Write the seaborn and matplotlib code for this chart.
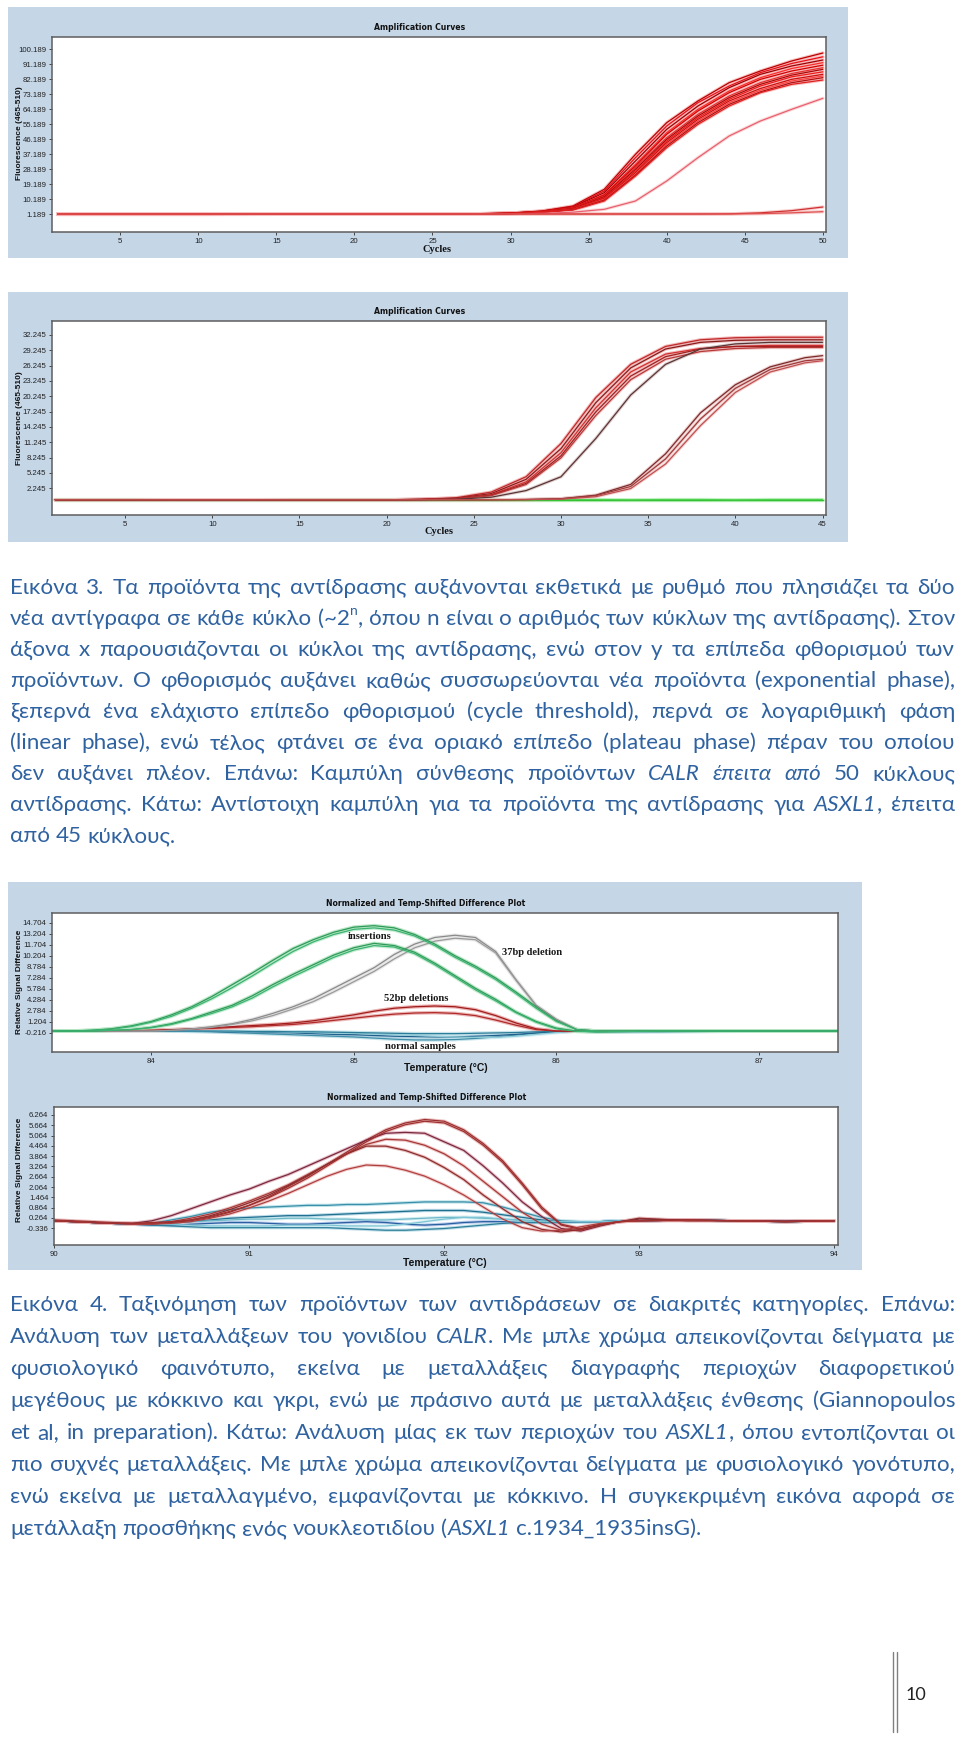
import numpy as np
import pandas as pd
import seaborn as sns
import matplotlib
matplotlib.use("Agg")
import matplotlib.pyplot as plt
from matplotlib.patches import Rectangle
from matplotlib import font_manager
from matplotlib.font_manager import FontProperties
from matplotlib.ft2font import FT2Font

# ---------------- data ----------------
# CALR amplification (50 cycles)
calr_cycles = [1, 5, 10, 15, 20, 25, 28, 30, 32, 34, 36, 38, 40, 42, 44, 46, 48, 50]
calr_amp_01 = [1.2, 1.2, 1.2, 1.2, 1.2, 1.3, 1.4, 1.8, 3.0, 6.0, 16.0, 37.0, 56.0, 69.0, 80.0, 87.0, 93.0, 97.8]
calr_amp_02 = [1.2, 1.2, 1.2, 1.2, 1.2, 1.3, 1.4, 1.7, 2.9, 5.6, 15.0, 35.0, 54.0, 68.0, 78.0, 86.0, 91.5, 95.5]
calr_amp_03 = [1.1, 1.1, 1.2, 1.2, 1.2, 1.2, 1.3, 1.7, 2.8, 5.3, 14.0, 33.0, 52.0, 66.0, 77.0, 85.0, 90.0, 93.6]
calr_amp_04 = [1.2, 1.2, 1.1, 1.1, 1.1, 1.2, 1.3, 1.6, 2.7, 5.0, 13.0, 31.0, 50.0, 64.0, 75.0, 83.0, 88.5, 92.0]
calr_amp_05 = [1.0, 1.0, 1.0, 1.1, 1.1, 1.2, 1.3, 1.6, 2.6, 4.8, 12.5, 30.0, 49.0, 63.0, 74.0, 82.0, 87.0, 90.5]
calr_amp_06 = [1.2, 1.2, 1.2, 1.2, 1.2, 1.2, 1.3, 1.6, 2.5, 4.6, 12.0, 29.0, 47.0, 61.0, 72.0, 80.0, 85.5, 89.0]
calr_amp_07 = [1.3, 1.3, 1.3, 1.3, 1.2, 1.2, 1.3, 1.5, 2.5, 4.4, 11.5, 28.0, 46.0, 60.0, 71.0, 79.0, 84.5, 88.0]
calr_amp_08 = [1.1, 1.1, 1.1, 1.1, 1.1, 1.1, 1.2, 1.5, 2.4, 4.2, 11.0, 27.0, 45.0, 59.0, 70.0, 78.0, 83.5, 86.5]
calr_amp_09 = [1.2, 1.2, 1.2, 1.2, 1.2, 1.2, 1.2, 1.5, 2.3, 4.0, 10.5, 26.0, 44.0, 58.0, 69.0, 76.5, 82.0, 85.0]
calr_amp_10 = [0.9, 0.9, 0.9, 1.0, 1.0, 1.1, 1.2, 1.4, 2.3, 3.9, 10.0, 25.0, 43.0, 57.0, 68.0, 75.5, 81.0, 84.0]
calr_amp_11 = [1.2, 1.2, 1.2, 1.2, 1.2, 1.2, 1.2, 1.4, 2.2, 3.8, 9.5, 24.5, 42.0, 56.0, 67.0, 74.5, 80.0, 83.0]
calr_amp_12 = [1.2, 1.2, 1.2, 1.2, 1.2, 1.2, 1.2, 1.4, 2.2, 3.6, 9.0, 24.0, 41.0, 55.0, 66.0, 74.0, 79.0, 81.6]
calr_amp_13 = [1.2, 1.2, 1.2, 1.2, 1.2, 1.2, 1.2, 1.3, 1.6, 2.3, 4.0, 9.0, 21.0, 35.0, 48.0, 57.0, 64.0, 70.6]
calr_amp_14 = [1.2, 1.2, 1.2, 1.2, 1.2, 1.2, 1.2, 1.2, 1.2, 1.2, 1.2, 1.2, 1.2, 1.2, 1.3, 1.9, 3.2, 5.4]
calr_amp_15 = [1.2, 1.2, 1.2, 1.2, 1.2, 1.2, 1.2, 1.2, 1.2, 1.2, 1.2, 1.2, 1.2, 1.2, 1.2, 1.4, 1.9, 2.6]
calr_amp_yticks = ["1.189", "10.189", "19.189", "28.189", "37.189", "46.189",
                   "55.189", "64.189", "73.189", "82.189", "91.189", "100.189"]

# ASXL1 amplification (45 cycles)
asxl1_cycles = [1, 5, 10, 15, 20, 22, 24, 26, 28, 30, 32, 34, 36, 38, 40, 42, 44, 45]
asxl1_amp_a1 = [0.0, 0.0, 0.0, 0.0, 0.0, 0.1, 0.4, 1.5, 4.5, 11.0, 20.0, 26.5, 30.0, 31.3, 31.7, 31.8, 31.8, 31.8]
asxl1_amp_a2 = [0.0, 0.0, 0.0, 0.0, 0.0, 0.1, 0.3, 1.2, 4.0, 10.0, 19.0, 25.8, 29.5, 30.8, 31.2, 31.3, 31.3, 31.3]
asxl1_amp_a3 = [0.0, 0.0, 0.0, 0.0, 0.0, 0.05, 0.2, 1.0, 3.5, 9.2, 18.0, 25.0, 28.5, 29.6, 30.0, 30.2, 30.2, 30.2]
asxl1_amp_a4 = [0.0, 0.0, 0.0, 0.0, 0.0, 0.05, 0.2, 0.9, 3.2, 8.6, 17.2, 24.2, 28.0, 29.5, 30.0, 30.0, 30.0, 30.0]
asxl1_amp_a5 = [0.0, 0.0, 0.0, 0.0, 0.0, 0.05, 0.2, 0.8, 3.0, 8.2, 16.5, 23.5, 27.5, 29.0, 29.6, 29.8, 29.8, 29.8]
asxl1_amp_b1 = [0.0, 0.0, 0.0, 0.0, 0.0, 0.0, 0.1, 0.5, 1.8, 4.5, 12.0, 20.5, 26.5, 29.5, 30.5, 30.8, 30.8, 30.8]
asxl1_amp_c1 = [0.0, 0.0, 0.0, 0.0, 0.0, 0.0, 0.0, 0.0, 0.05, 0.2, 0.9, 3.0, 9.0, 17.0, 22.5, 26.0, 27.8, 28.2]
asxl1_amp_c2 = [0.0, 0.0, 0.0, 0.0, 0.0, 0.0, 0.0, 0.0, 0.05, 0.2, 0.8, 2.6, 8.0, 15.8, 21.8, 25.5, 27.2, 27.5]
asxl1_amp_c3 = [0.0, 0.0, 0.0, 0.0, 0.0, 0.0, 0.0, 0.0, 0.0, 0.1, 0.6, 2.2, 7.0, 14.5, 21.0, 25.0, 26.8, 27.2]
asxl1_amp_g1 = [0.0, 0.0, 0.0, 0.0, 0.0, 0.0, 0.0, 0.0, 0.0, 0.0, 0.0, 0.0, 0.0, 0.0, 0.0, 0.0, 0.0, 0.0]
asxl1_amp_g2 = [0.05, 0.05, 0.0, 0.05, 0.05, 0.0, 0.05, 0.05, 0.0, 0.05, 0.05, 0.0, 0.05, 0.05, 0.0, 0.05, 0.05, 0.05]
asxl1_amp_yticks = ["2.245", "5.245", "8.245", "11.245", "14.245", "17.245",
                    "20.245", "23.245", "26.245", "29.245", "32.245"]

# CALR difference plot
calr_temp = [83.5, 83.6, 83.7, 83.8, 83.9, 84.0, 84.1, 84.2, 84.3, 84.4, 84.5, 84.6, 84.7, 84.8, 84.9,
             85.0, 85.1, 85.2, 85.3, 85.4, 85.5, 85.6, 85.7, 85.8, 85.9, 86.0, 86.1, 86.2, 86.5, 87.0, 87.4]
calr_ins_1 = [0.0, 0.0, 0.1, 0.3, 0.7, 1.3, 2.2, 3.3, 4.7, 6.3, 7.9, 9.6, 11.2, 12.4, 13.4, 14.1, 14.3,
              14.0, 13.1, 11.8, 10.2, 8.8, 7.2, 5.3, 3.3, 1.4, 0.2, 0.0, 0.0, 0.0, 0.0]
calr_ins_2 = [0.0, 0.0, 0.1, 0.25, 0.6, 1.2, 2.0, 3.1, 4.4, 5.9, 7.5, 9.2, 10.8, 12.1, 13.1, 13.8, 14.0,
              13.7, 12.9, 11.6, 10.0, 8.6, 7.0, 5.1, 3.1, 1.3, 0.2, 0.0, 0.0, 0.0, 0.0]
calr_ins_3 = [0.0, 0.0, 0.0, 0.1, 0.2, 0.5, 1.0, 1.7, 2.6, 3.5, 4.8, 6.3, 7.7, 9.0, 10.3, 11.3, 11.9,
              11.6, 10.7, 9.2, 7.5, 5.8, 4.3, 2.6, 1.3, 0.4, 0.0, -0.1, 0.0, 0.0, 0.0]
calr_ins_4 = [0.0, 0.0, 0.0, 0.1, 0.2, 0.45, 0.9, 1.6, 2.4, 3.3, 4.5, 6.0, 7.4, 8.7, 10.0, 11.0, 11.6,
              11.4, 10.5, 9.0, 7.3, 5.6, 4.1, 2.5, 1.2, 0.3, -0.05, -0.1, 0.0, 0.0, 0.0]
calr_del37_1 = [0.0, 0.0, 0.0, 0.0, 0.0, 0.0, 0.1, 0.3, 0.6, 1.0, 1.6, 2.4, 3.3, 4.4, 5.8, 7.2, 8.6,
                10.4, 11.8, 12.7, 13.0, 12.7, 10.8, 7.0, 3.5, 1.6, 0.2, 0.0, 0.0, 0.0, 0.0]
calr_del37_2 = [0.0, 0.0, 0.0, 0.0, 0.0, 0.0, 0.1, 0.25, 0.5, 0.9, 1.4, 2.1, 3.0, 4.0, 5.3, 6.7, 8.1,
                9.8, 11.3, 12.2, 12.6, 12.4, 10.6, 6.9, 3.4, 1.5, 0.2, 0.0, 0.0, 0.0, 0.0]
calr_del52_1 = [0.0, 0.0, 0.0, 0.0, 0.05, 0.1, 0.2, 0.3, 0.45, 0.6, 0.75, 0.9, 1.1, 1.4, 1.8, 2.2, 2.7,
                3.1, 3.3, 3.4, 3.3, 2.9, 2.1, 1.1, 0.3, 0.0, 0.0, 0.0, 0.0, 0.0, 0.0]
calr_del52_2 = [0.0, 0.0, 0.0, 0.0, 0.05, 0.1, 0.15, 0.25, 0.35, 0.5, 0.6, 0.75, 0.9, 1.15, 1.45, 1.75, 2.05,
                2.3, 2.45, 2.5, 2.4, 2.1, 1.5, 0.8, 0.2, 0.0, 0.0, 0.0, 0.0, 0.0, 0.0]
calr_norm_1 = [0.0, 0.0, 0.0, 0.0, 0.0, 0.0, 0.0, -0.05, -0.1, -0.2, -0.3, -0.4, -0.5, -0.6, -0.7, -0.8, -0.95,
               -1.1, -1.2, -1.2, -1.15, -1.0, -0.8, -0.55, -0.3, -0.1, 0.0, -0.1, -0.1, 0.0, 0.0]
calr_norm_2 = [0.0, 0.0, 0.0, 0.0, 0.0, 0.0, 0.0, 0.0, -0.05, -0.1, -0.15, -0.2, -0.25, -0.35, -0.45, -0.5, -0.6,
               -0.7, -0.75, -0.8, -0.8, -0.7, -0.6, -0.45, -0.25, -0.1, 0.0, 0.0, 0.0, 0.0, 0.0]
calr_norm_3 = [0.0, 0.0, 0.0, 0.0, 0.0, 0.0, 0.0, 0.0, 0.0, -0.05, -0.1, -0.1, -0.15, -0.2, -0.25, -0.3, -0.4,
               -0.5, -0.6, -0.7, -0.8, -0.85, -0.85, -0.7, -0.45, -0.2, 0.0, -0.05, 0.0, 0.0, 0.0]
calr_norm_4 = [0.0, 0.0, 0.0, 0.0, 0.0, 0.0, 0.0, 0.0, 0.0, 0.0, -0.05, -0.05, -0.1, -0.1, -0.15, -0.2, -0.25,
               -0.3, -0.35, -0.35, -0.35, -0.3, -0.25, -0.2, -0.1, -0.05, 0.0, 0.0, 0.0, 0.0, 0.0]
calr_diff_yticks = ["-0.216", "1.204", "2.784", "4.284", "5.784", "7.284",
                    "8.784", "10.204", "11.704", "13.204", "14.704"]

# ASXL1 difference plot
asxl1_temp = [90.0, 90.1, 90.2, 90.3, 90.4, 90.5, 90.6, 90.7, 90.8, 90.9, 91.0, 91.1, 91.2, 91.3, 91.4, 91.5,
              91.6, 91.7, 91.8, 91.9, 92.0, 92.1, 92.2, 92.3, 92.4, 92.5, 92.6, 92.7, 92.8, 92.9, 93.0,
              93.25, 93.5, 93.75, 94.0]
asxl1_mut_1 = [0.15, 0.1, 0.05, 0.0, -0.05, -0.05, 0.0, 0.1, 0.3, 0.6, 1.0, 1.5, 2.1, 2.7, 3.4, 4.1, 4.8, 5.4,
               5.8, 6.0, 5.9, 5.4, 4.6, 3.6, 2.3, 0.9, -0.1, -0.35, -0.1, 0.05, 0.1, 0.15, 0.1, 0.05, 0.1]
asxl1_mut_2 = [0.1, 0.05, 0.0, -0.05, -0.05, 0.1, 0.4, 0.8, 1.2, 1.6, 1.95, 2.4, 2.8, 3.3, 3.8, 4.3, 4.8, 5.2,
               5.25, 5.2, 4.7, 4.2, 3.3, 2.3, 1.2, 0.35, -0.35, -0.5, -0.2, 0.05, 0.2, 0.15, 0.1, 0.1, 0.1]
asxl1_mut_3 = [0.1, 0.05, 0.0, -0.05, -0.05, -0.05, 0.05, 0.25, 0.5, 0.85, 1.25, 1.7, 2.2, 2.8, 3.4, 4.0, 4.55,
               4.85, 4.8, 4.5, 4.0, 3.3, 2.4, 1.5, 0.6, -0.1, -0.45, -0.45, -0.15, 0.05, 0.1, 0.15, 0.1, 0.05, 0.1]
asxl1_mut_4 = [0.1, 0.05, 0.0, -0.05, -0.1, -0.1, 0.0, 0.15, 0.4, 0.75, 1.15, 1.6, 2.15, 2.75, 3.4, 4.0, 4.45,
               4.45, 4.2, 3.8, 3.2, 2.5, 1.6, 0.8, 0.05, -0.4, -0.55, -0.4, -0.1, 0.05, 0.25, 0.1, 0.1, 0.05, 0.1]
asxl1_mut_5 = [0.1, 0.05, 0.0, -0.05, -0.1, -0.1, -0.05, 0.05, 0.25, 0.5, 0.85, 1.25, 1.7, 2.2, 2.7, 3.1, 3.35,
               3.3, 3.05, 2.7, 2.2, 1.6, 0.9, 0.2, -0.3, -0.5, -0.45, -0.25, -0.05, 0.05, 0.1, 0.1, 0.1, 0.05, 0.1]
asxl1_mut_6 = [0.1, 0.05, 0.0, -0.05, -0.05, 0.0, 0.05, 0.15, 0.35, 0.65, 1.0, 1.45, 2.0, 2.6, 3.3, 4.0, 4.7,
               5.3, 5.7, 5.9, 5.8, 5.3, 4.5, 3.5, 2.2, 0.8, -0.15, -0.4, -0.15, 0.05, 0.1, 0.15, 0.1, 0.05, 0.1]
asxl1_wt_1 = [0.1, 0.05, 0.0, -0.05, -0.1, -0.05, 0.15, 0.35, 0.6, 0.75, 0.85, 0.9, 0.95, 1.0, 1.0, 1.05, 1.05,
              1.1, 1.15, 1.2, 1.2, 1.2, 1.15, 0.9, 0.6, 0.3, 0.1, 0.05, 0.05, 0.1, 0.1, 0.15, 0.1, 0.05, 0.1]
asxl1_wt_2 = [0.1, 0.05, 0.0, -0.05, -0.1, -0.1, -0.05, 0.05, 0.15, 0.25, 0.3, 0.35, 0.4, 0.4, 0.45, 0.5, 0.55,
              0.6, 0.65, 0.7, 0.7, 0.7, 0.6, 0.45, 0.3, 0.15, 0.05, 0.05, 0.05, 0.1, 0.1, 0.15, 0.1, 0.05, 0.1]
asxl1_wt_3 = [0.1, 0.05, 0.0, -0.05, -0.1, -0.1, -0.05, 0.05, 0.1, 0.15, 0.2, 0.2, 0.25, 0.25, 0.2, 0.2, 0.15,
              0.15, 0.2, 0.25, 0.3, 0.3, 0.25, 0.2, 0.15, 0.1, 0.05, 0.05, 0.05, 0.1, 0.1, 0.15, 0.1, 0.05, 0.1]
asxl1_wt_4 = [0.1, 0.05, 0.0, -0.05, -0.1, -0.15, -0.15, -0.1, -0.05, 0.0, 0.0, -0.05, -0.1, -0.1, -0.05, 0.0, 0.05,
              0.0, -0.1, -0.15, -0.1, 0.0, 0.05, 0.05, 0.0, 0.0, 0.0, 0.05, 0.05, 0.1, 0.1, 0.15, 0.1, 0.05, 0.1]
asxl1_wt_5 = [0.1, 0.05, 0.0, -0.05, -0.1, -0.15, -0.2, -0.25, -0.3, -0.3, -0.3, -0.3, -0.3, -0.3, -0.3, -0.35, -0.4,
              -0.45, -0.45, -0.4, -0.35, -0.25, -0.15, -0.05, 0.0, 0.0, 0.0, 0.05, 0.05, 0.1, 0.1, 0.15, 0.1, 0.05, 0.1]
asxl1_wt_6 = [0.1, 0.05, 0.0, -0.05, -0.1, -0.1, -0.1, -0.15, -0.2, -0.2, -0.2, -0.2, -0.15, -0.15, -0.15, -0.2, -0.2,
              -0.2, -0.1, 0.05, 0.2, 0.3, 0.3, 0.2, 0.1, 0.05, 0.05, 0.05, 0.05, 0.1, 0.1, 0.15, 0.1, 0.05, 0.1]
asxl1_diff_yticks = ["-0.336", "0.264", "0.864", "1.464", "2.064", "2.664",
                     "3.264", "3.864", "4.464", "5.064", "5.664", "6.264"]

caption_3 = [
    "Εικόνα 3. Τα προϊόντα της αντίδρασης αυξάνονται εκθετικά με ρυθμό που πλησιάζει τα δύο",
    "νέα αντίγραφα σε κάθε κύκλο (~2^n, όπου n είναι ο αριθμός των κύκλων της αντίδρασης). Στον",
    "άξονα x παρουσιάζονται οι κύκλοι της αντίδρασης, ενώ στον y τα επίπεδα φθορισμού των",
    "προϊόντων. Ο φθορισμός αυξάνει καθώς συσσωρεύονται νέα προϊόντα (exponential phase),",
    "ξεπερνά ένα ελάχιστο επίπεδο φθορισμού (cycle threshold), περνά σε λογαριθμική φάση",
    "(linear phase), ενώ τέλος φτάνει σε ένα οριακό επίπεδο (plateau phase) πέραν του οποίου",
    "δεν αυξάνει πλέον. Επάνω: Καμπύλη σύνθεσης προϊόντων §CALR έπειτα από§ 50 κύκλους",
    "αντίδρασης. Κάτω: Αντίστοιχη καμπύλη για τα προϊόντα της αντίδρασης για §ASXL1§, έπειτα",
    "από 45 κύκλους.",
]
caption_4 = [
    "Εικόνα 4. Ταξινόμηση των προϊόντων των αντιδράσεων σε διακριτές κατηγορίες. Επάνω:",
    "Ανάλυση των μεταλλάξεων του γονιδίου §CALR§. Με μπλε χρώμα απεικονίζονται δείγματα με",
    "φυσιολογικό φαινότυπο, εκείνα με μεταλλάξεις διαγραφής περιοχών διαφορετικού",
    "μεγέθους με κόκκινο και γκρι, ενώ με πράσινο αυτά με μεταλλάξεις ένθεσης (Giannopoulos",
    "et al, in preparation). Κάτω: Ανάλυση μίας εκ των περιοχών του §ASXL1§, όπου εντοπίζονται οι",
    "πιο συχνές μεταλλάξεις. Με μπλε χρώμα απεικονίζονται δείγματα με φυσιολογικό γονότυπο,",
    "ενώ εκείνα με μεταλλαγμένο, εμφανίζονται με κόκκινο. Η συγκεκριμένη εικόνα αφορά σε",
    "μετάλλαξη προσθήκης ενός νουκλεοτιδίου (§ASXL1§ c.1934_1935insG).",
]

# ---------------- fonts ----------------
sns.set_theme(style="white")
avail = {f.name for f in font_manager.fontManager.ttflist}
NARROW = "Liberation Sans Narrow" if "Liberation Sans Narrow" in avail else "Liberation Sans"
TICK_SIZE = 6.3 if NARROW == "Liberation Sans Narrow" else 5.6


def has_greek(name):
    try:
        path = font_manager.findfont(FontProperties(family=name), fallback_to_default=False)
        return FT2Font(path).get_char_index(ord("α")) != 0
    except Exception:
        return False


BODY = ["Lato", "Noto Sans", "DejaVu Sans"] if has_greek("Lato") else ["Noto Sans", "DejaVu Sans"]
plt.rcParams["font.family"] = ["DejaVu Sans"]

W, H = 960, 1762
BG_BLUE = "#c5d6e7"
TEXT_BLUE = "#2f62a0"

fig = plt.figure(figsize=(W / 100, H / 100), dpi=100)
fig.patch.set_facecolor("white")
bg = fig.add_axes([0, 0, 1, 1])
bg.set_xlim(0, W)
bg.set_ylim(H, 0)
bg.axis("off")

for x0, y0, x1, y1 in [(8, 7, 848, 258), (8, 292, 848, 542), (8, 882, 862, 1270)]:
    bg.add_patch(Rectangle((x0, y0), x1 - x0, y1 - y0, facecolor=BG_BLUE, edgecolor="none"))


def chart(box, xlim, ylim, xticks, xlabels, yticks, ylabels):
    x0, y0, x1, y1 = box
    ax = fig.add_axes([x0 / W, 1 - y1 / H, (x1 - x0) / W, (y1 - y0) / H])
    ax.set_facecolor("white")
    ax.set_xlim(*xlim)
    ax.set_ylim(*ylim)
    for s in ax.spines.values():
        s.set_color("#5e5e5e")
        s.set_linewidth(1.1)
    ax.set_xticks(xticks)
    ax.set_xticklabels(xlabels, fontfamily=NARROW, fontsize=TICK_SIZE, color="#222222")
    ax.set_yticks(yticks)
    ax.set_yticklabels(ylabels, fontfamily=NARROW, fontsize=TICK_SIZE, color="#222222")
    ax.tick_params(axis="both", direction="out", length=2.5, width=0.7, color="#444444", pad=1.5,
                   bottom=True, left=True)
    return ax


def draw_curves(ax, x, curves, dark, light, lw=1.0, halo=2.6):
    rows = []
    for name, vals in curves:
        for xi, v in zip(x, vals):
            rows.append((name, xi, v))
    df = pd.DataFrame(rows, columns=["curve", "x", "y"])
    names = [c[0] for c in curves]
    sns.lineplot(data=df, x="x", y="y", hue="curve", palette=dict(zip(names, light)),
                 linewidth=halo, legend=False, ax=ax, estimator=None, sort=False, alpha=0.8)
    sns.lineplot(data=df, x="x", y="y", hue="curve", palette=dict(zip(names, dark)),
                 linewidth=lw, legend=False, ax=ax, estimator=None, sort=False)
    ax.set_xlabel("")
    ax.set_ylabel("")


def panel_text(title, tx, ty, ylabel, ly, xlabel, xx, xy, xfont):
    bg.text(tx, ty, title, ha="center", va="center", fontsize=5.6, fontweight="bold",
            family="DejaVu Sans", color="#111111")
    bg.text(20, ly, ylabel, ha="center", va="center", rotation=90, fontsize=6,
            fontweight="bold", family=NARROW, color="#111111")
    bg.text(xx, xy, xlabel, ha="center", va="center", fontsize=7.5, fontweight="bold",
            family=xfont, color="#111111")


# ---------- panel 1 : CALR amplification ----------
ax1 = chart((52, 37, 826, 232), (0.64, 50.2), (-9.6, 107.4), list(range(5, 51, 5)),
            [str(v) for v in range(5, 51, 5)], [1.189 + 9 * i for i in range(12)], calr_amp_yticks)
calr_curves = [("c01", calr_amp_01), ("c02", calr_amp_02), ("c03", calr_amp_03), ("c04", calr_amp_04),
               ("c05", calr_amp_05), ("c06", calr_amp_06), ("c07", calr_amp_07), ("c08", calr_amp_08),
               ("c09", calr_amp_09), ("c10", calr_amp_10), ("c11", calr_amp_11), ("c12", calr_amp_12),
               ("c13", calr_amp_13), ("c14", calr_amp_14), ("c15", calr_amp_15)]
dark1 = ["#b80000", "#e8101a", "#9c0000", "#ff2a2a", "#d00000", "#e83030", "#a80808", "#f01818",
         "#c81010", "#ff4040", "#b01010", "#e02020", "#e86070", "#d03030", "#e05050"]
light1 = ["#f6b0b0"] * 12 + ["#fbd0d0", "#f6c0c0", "#f6c0c0"]
draw_curves(ax1, calr_cycles, calr_curves, dark1, light1, lw=0.9, halo=2.4)
panel_text("Amplification Curves", 420, 27, "Fluorescence (465-510)", 133, "Cycles", 437, 249,
           "Liberation Serif")

# ---------- panel 2 : ASXL1 amplification ----------
ax2 = chart((52, 321, 826, 515), (0.81, 45.2), (-2.98, 34.98), list(range(5, 46, 5)),
            [str(v) for v in range(5, 46, 5)], [2.245 + 3 * i for i in range(11)], asxl1_amp_yticks)
asxl1_curves = [("g1", asxl1_amp_g1), ("g2", asxl1_amp_g2),
                ("a1", asxl1_amp_a1), ("a2", asxl1_amp_a2), ("a3", asxl1_amp_a3), ("a4", asxl1_amp_a4),
                ("a5", asxl1_amp_a5), ("b1", asxl1_amp_b1), ("c1", asxl1_amp_c1), ("c2", asxl1_amp_c2),
                ("c3", asxl1_amp_c3)]
dark2 = ["#30c030", "#50d050", "#c0282a", "#8b1a1a", "#d43030", "#a02020", "#b83838", "#5a3434",
         "#7a2a2a", "#a03a3a", "#c05050"]
light2 = ["#a8eca8", "#b8f0b8", "#f0a8a8", "#e8b0b0", "#f0a8a8", "#e8b0b0", "#f0b8b8", "#d8c4c4",
          "#e8c0c0", "#e8c0c0", "#f0c8c8"]
draw_curves(ax2, asxl1_cycles, asxl1_curves, dark2, light2, lw=0.9, halo=2.4)
panel_text("Amplification Curves", 420, 312, "Fluorescence (465-510)", 418, "Cycles", 439, 532,
           "Liberation Serif")

# ---------- panel 3 : CALR difference ----------
ax3 = chart((52, 913, 838, 1052), (83.51, 87.39), (-2.84, 16.02), [84, 85, 86, 87],
            ["84", "85", "86", "87"], list(np.linspace(-0.216, 14.704, 11)), calr_diff_yticks)
calr_diff = [("n1", calr_norm_1), ("n2", calr_norm_2), ("n3", calr_norm_3), ("n4", calr_norm_4),
             ("d52a", calr_del52_1), ("d52b", calr_del52_2), ("d37a", calr_del37_1), ("d37b", calr_del37_2),
             ("i1", calr_ins_1), ("i2", calr_ins_2), ("i3", calr_ins_3), ("i4", calr_ins_4)]
dark3 = ["#3f8fa8", "#1f5f8b", "#8fcbd8", "#2c7c98", "#a01c1c", "#b02828", "#8a8a8a", "#9a9a9a",
         "#2e9a58", "#3cb371", "#2e9a58", "#3cb371"]
light3 = ["#b8dde6", "#a8c8e0", "#d0eef2", "#b8dde6", "#e8a0a0", "#e8a8a8", "#e2e2e2", "#e2e2e2",
          "#a8e0b8", "#b8e8c8", "#a8e0b8", "#b8e8c8"]
draw_curves(ax3, calr_temp, calr_diff, dark3, light3, lw=0.9, halo=2.6)
ann = dict(fontsize=7.6, fontweight="bold", family="Liberation Serif", color="#1a1a1a",
           ha="center", va="center", zorder=6)
ax3.text(85.08, 12.8, "insertions", **ann)
ax3.text(85.31, 4.4, "52bp deletions", **ann)
ax3.text(85.88, 10.7, "37bp deletion", **ann)
ax3.text(85.33, -2.1, "normal samples", **ann)
panel_text("Normalized and Temp-Shifted Difference Plot", 426, 904, "Relative Signal Difference", 982,
           "Temperature (°C)", 446, 1068, NARROW)

# ---------- panel 4 : ASXL1 difference ----------
ax4 = chart((54, 1107, 838, 1245), (89.998, 94.02), (-1.31, 6.73), [90, 91, 92, 93, 94],
            ["90", "91", "92", "93", "94"], list(np.linspace(-0.336, 6.264, 12)), asxl1_diff_yticks)
asxl1_diff = [("w1", asxl1_wt_1), ("w2", asxl1_wt_2), ("w3", asxl1_wt_3), ("w4", asxl1_wt_4),
              ("w5", asxl1_wt_5), ("w6", asxl1_wt_6),
              ("m1", asxl1_mut_1), ("m2", asxl1_mut_2), ("m3", asxl1_mut_3), ("m4", asxl1_mut_4),
              ("m5", asxl1_mut_5), ("m6", asxl1_mut_6)]
dark4 = ["#3a8fa8", "#1f6f8f", "#6fb8c8", "#2a5fa0", "#2f7f9a", "#7ec4d4",
         "#9a3030", "#7a2a3a", "#a83838", "#8c2c2c", "#b04040", "#a03030"]
light4 = ["#b0dce6", "#a8d0e0", "#c8eaf0", "#a8c0e8", "#b0d8e4", "#d0eef4",
          "#e8b0b0", "#e0b0c0", "#eab8b8", "#e4b0b0", "#eec0c0", "#e8b0b0"]
draw_curves(ax4, asxl1_temp, asxl1_diff, dark4, light4, lw=0.9, halo=2.4)
panel_text("Normalized and Temp-Shifted Difference Plot", 427, 1097, "Relative Signal Difference", 1170,
           "Temperature (°C)", 445, 1263, NARROW)

# ---------------- captions (justified) ----------------
fig.canvas.draw()
renderer = fig.canvas.get_renderer()


def fprops(style, size):
    if style == "i":
        return FontProperties(family=BODY, style="italic", size=size)
    if style == "sup":
        return FontProperties(family=BODY, size=size * 0.62)
    return FontProperties(family=BODY, size=size)


def width(text, style, size):
    return renderer.get_text_width_height_descent(text, fprops(style, size), ismath=False)[0]


def parse(line):
    words, italic = [], False
    for raw in line.split(" "):
        runs, buf, sup = [], "", False
        for ch in raw:
            if ch == "§":
                if buf:
                    runs.append((buf, "i" if italic else "n"))
                    buf = ""
                italic = not italic
            elif ch == "^":
                if buf:
                    runs.append((buf, "i" if italic else "n"))
                    buf = ""
                sup = True
            elif sup:
                runs.append((ch, "sup"))
                sup = False
            else:
                buf += ch
        if buf:
            runs.append((buf, "i" if italic else "n"))
        words.append(runs)
    return words


X_LEFT, X_RIGHT = 10, 955


def fit_size(lines, base=12.0):
    ratio = 10.0
    sp = width("a a", "n", base) - width("aa", "n", base)
    for line in lines[:-1]:
        ws = parse(line)
        nat = sum(width(t, s, base) for w in ws for t, s in w) + sp * (len(ws) - 1)
        ratio = min(ratio, (X_RIGHT - X_LEFT) / nat)
    return base * ratio * 0.99


def paragraph(lines, baseline, step, size):
    sp = width("a a", "n", size) - width("aa", "n", size)
    for k, line in enumerate(lines):
        ws = parse(line)
        wds = [sum(width(t, s, size) for t, s in w) for w in ws]
        last = k == len(lines) - 1
        gap = sp if last else (X_RIGHT - X_LEFT - sum(wds)) / (len(ws) - 1)
        x = X_LEFT
        y = baseline + k * step
        for w, wd in zip(ws, wds):
            for t, s in w:
                dy = -size * 0.45 * 100 / 72 if s == "sup" else 0
                bg.text(x, y + dy, t, fontproperties=fprops(s, size), color=TEXT_BLUE,
                        ha="left", va="baseline")
                x += width(t, s, size)
            x += gap


size = min(fit_size(caption_3), fit_size(caption_4))
paragraph(caption_3, 594, 31, size)
paragraph(caption_4, 1311, 32, size)

# page number
bg.plot([893, 893], [1652, 1732], color="#808080", lw=1.0)
bg.plot([897, 897], [1652, 1732], color="#808080", lw=1.0)
bg.text(906, 1700, "10", fontsize=13, family=BODY, color="#222222", ha="left", va="baseline")

fig.savefig("out.png", dpi=100, facecolor="white")
